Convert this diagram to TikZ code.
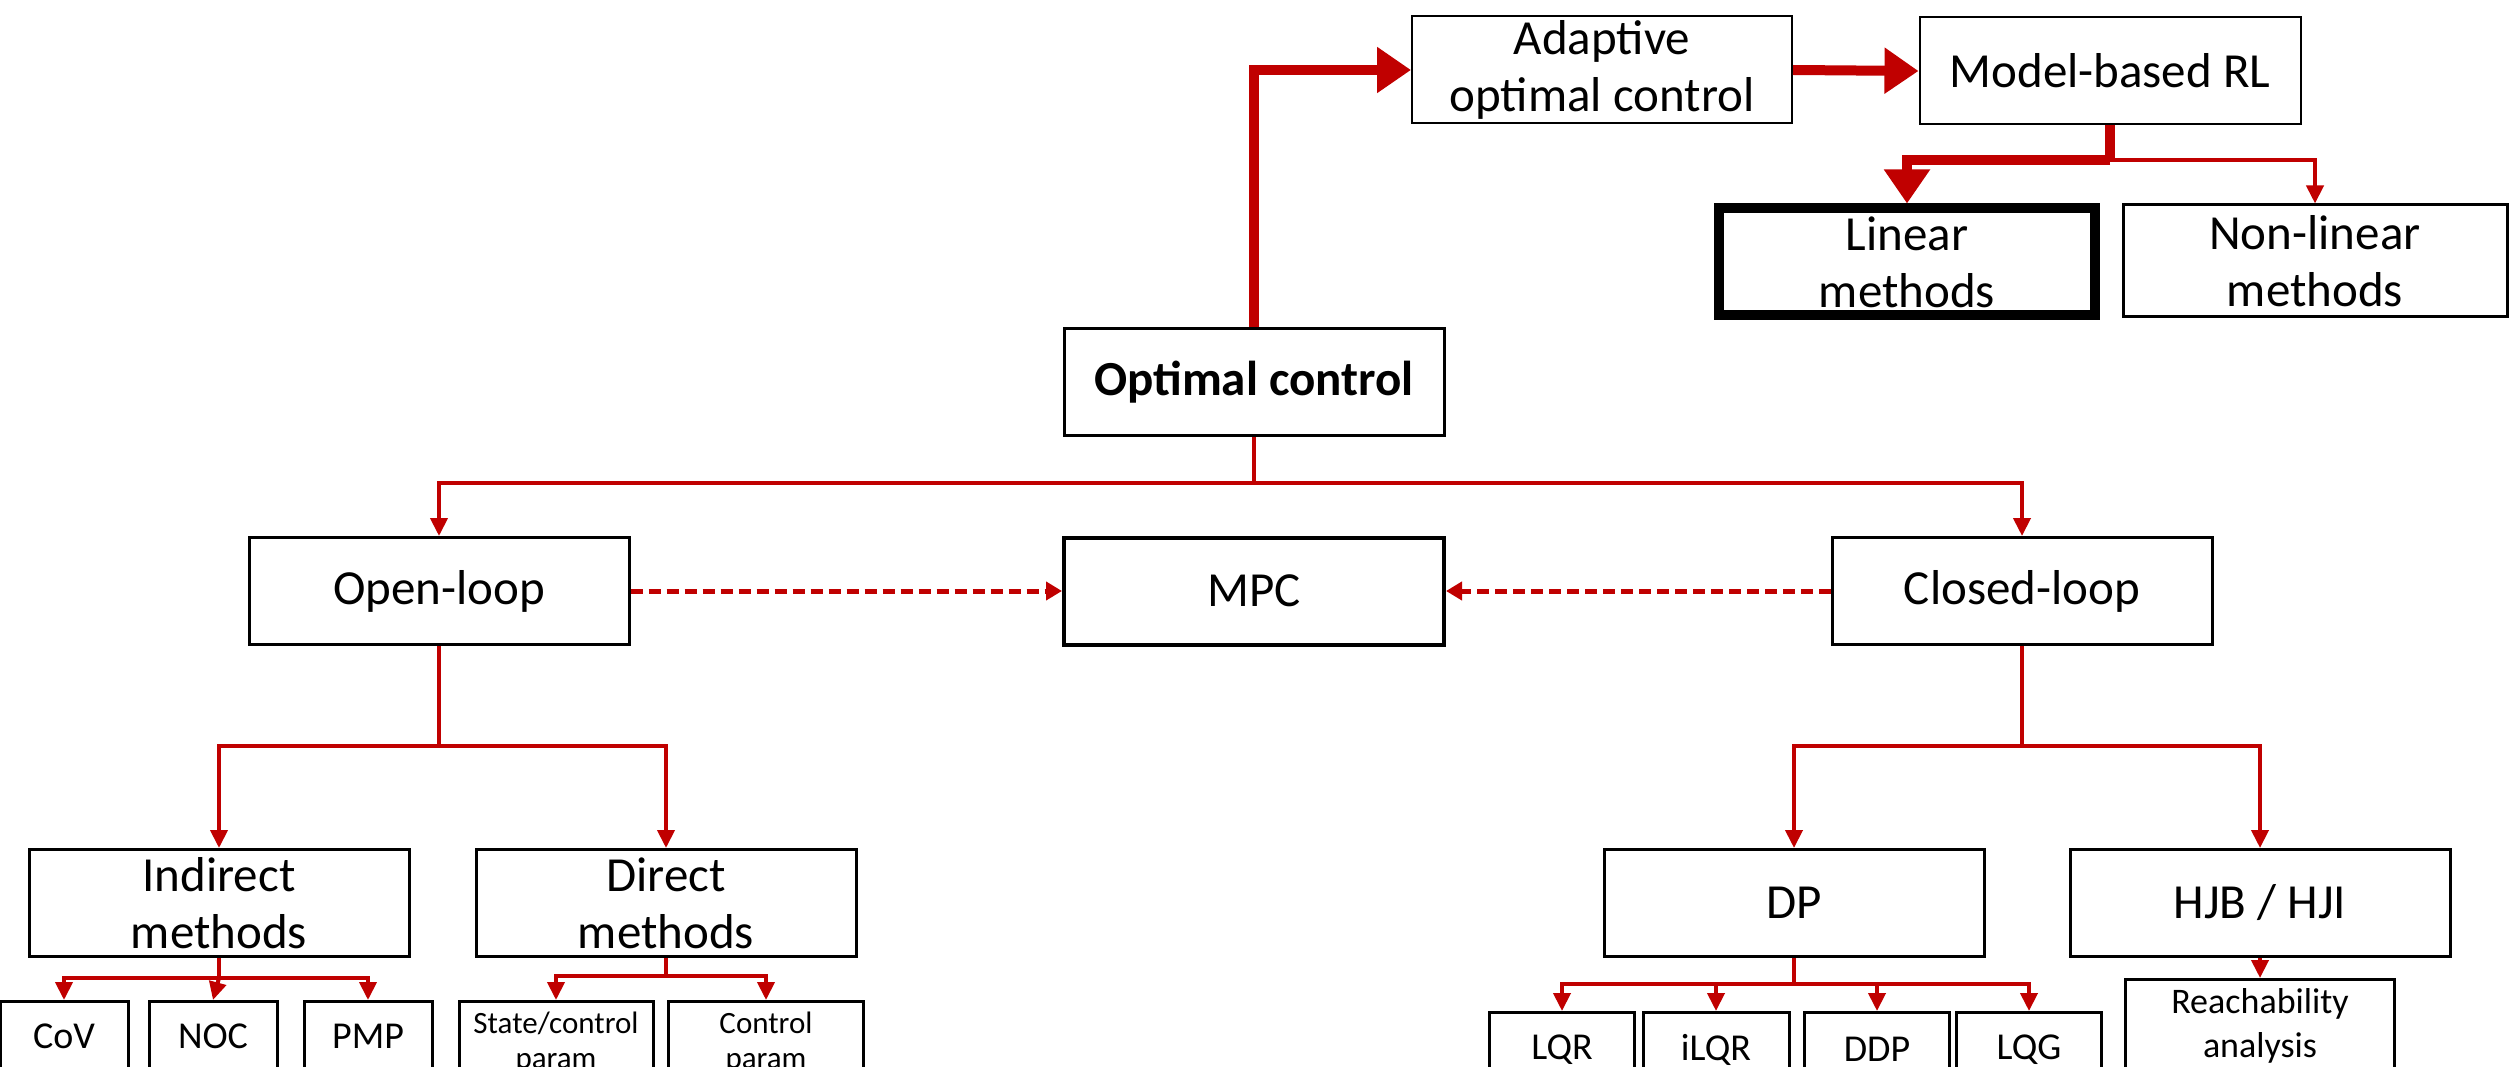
\documentclass[tikz,border=0pt]{standalone}
\usepackage{fontspec}
\setmainfont{Carlito}
\usetikzlibrary{arrows.meta}
\definecolor{cred}{HTML}{C00000}
\begin{document}
\begin{tikzpicture}[x=1pt,y=-1pt,
  box/.style={draw=black, line width=3pt, fill=white, minimum width=380pt, minimum height=107pt, align=center, inner sep=0pt, font=\fontsize{49}{57}\selectfont},
  leaf/.style={draw=black, line width=3pt, fill=white, align=center, inner sep=0pt, anchor=north, font=\fontsize{38}{46}\selectfont},
  redline/.style={draw=cred, line width=4pt},
  thinarrow/.style={draw=cred, line width=4pt, -{Triangle[length=18pt,width=17pt]}},
  thickarrow/.style={draw=cred, line width=10pt, -{Triangle[length=34pt,width=44pt]}},
  dasharrow/.style={draw=cred, line width=5pt, dash pattern=on 12pt off 6pt, -{Triangle[length=16pt,width=18pt]}}]
\useasboundingbox (0,0) rectangle (2509,1067);
\clip (0,0) rectangle (2509,1067);
% main boxes
\node[box, line width=2pt] (aoc) at (1602,70) {Adaptive\\optimal control};
\node[box, line width=2pt, minimum width=381pt] (mrl) at (2110,71) {Model-based RL};
\node[box, line width=10pt, minimum width=376pt, minimum height=107pt] (lin) at (1907,262) {Linear\\methods};
\node[box, minimum width=384pt, minimum height=112pt] (nl) at (2315,261) {Non-linear\\methods};
\node[box] (oc) at (1254,382) {\bfseries Optimal control};
\node[box] (ol) at (439,591) {Open-loop};
\node[box, line width=4pt] (mpc) at (1254,591) {MPC};
\node[box] (cl) at (2022,591) {Closed-loop};
\node[box] (ind) at (219,903) {Indirect\\methods};
\node[box] (dir) at (666,903) {Direct\\methods};
\node[box] (dp) at (1794,903) {DP};
\node[box] (hjb) at (2260,903) {HJB / HJI};
% leaves
\node[leaf, minimum width=128pt, minimum height=70pt] (cov) at (64,1000) {CoV};
\node[leaf, minimum width=128pt, minimum height=70pt] (noc) at (213,1000) {NOC};
\node[leaf, minimum width=128pt, minimum height=70pt] (pmp) at (368,1000) {PMP};
\node[leaf, minimum width=194pt, minimum height=82pt, font=\fontsize{31}{35}\selectfont] (scp) at (556,1000) {State/control\\param};
\node[leaf, minimum width=195pt, minimum height=82pt, font=\fontsize{31}{35}\selectfont] (cp) at (766,1000) {Control\\param};
\node[leaf, minimum width=145pt, minimum height=74pt] (lqr) at (1562,1011) {LQR};
\node[leaf, minimum width=146pt, minimum height=74pt] (ilqr) at (1716,1011) {iLQR};
\node[leaf, minimum width=145pt, minimum height=74pt] (ddp) at (1877,1011) {DDP};
\node[leaf, minimum width=145pt, minimum height=74pt] (lqg) at (2029,1011) {LQG};
\node[leaf, minimum width=269pt, minimum height=92pt, font=\fontsize{36}{44}\selectfont] (rea) at (2260,978) {Reachability\\analysis};
% junctions
\coordinate (jm) at (2110,160);
\coordinate (jo) at (1254,483);
\coordinate (jol) at (439,746);
\coordinate (jcl) at (2022,746);
\coordinate (jind) at (219,978);
\coordinate (jdir) at (666,976);
\coordinate (jdp) at (1794,984);
% thick connectors
\draw[thickarrow] (oc.north) |- (aoc.west);
\draw[thickarrow] (aoc.east) -- (mrl.west);
\draw[draw=cred, line width=10pt] (mrl.south) -- (jm);
\draw[thickarrow] (jm) -| (lin.north);
\draw[thinarrow] (jm) -| (nl.north);
% tree
\draw[redline] (oc.south) -- (jo);
\draw[thinarrow] (jo) -| (ol.north);
\draw[thinarrow] (jo) -| (cl.north);
\draw[dasharrow] (ol.east) -- (mpc.west);
\draw[dasharrow] (cl.west) -- (mpc.east);
\draw[redline] (ol.south) -- (jol);
\draw[thinarrow] (jol) -| (ind.north);
\draw[thinarrow] (jol) -| (dir.north);
\draw[redline] (cl.south) -- (jcl);
\draw[thinarrow] (jcl) -| (dp.north);
\draw[thinarrow] (jcl) -| (hjb.north);
\draw[redline] (ind.south) -- (jind);
\draw[thinarrow] (jind) -| (cov.north);
\draw[thinarrow] (jind) -- (noc.north);
\draw[thinarrow] (jind) -| (pmp.north);
\draw[redline] (dir.south) -- (jdir);
\draw[thinarrow] (jdir) -| (scp.north);
\draw[thinarrow] (jdir) -| (cp.north);
\draw[redline] (dp.south) -- (jdp);
\draw[thinarrow] (jdp) -| (lqr.north);
\draw[thinarrow] (jdp) -| (ilqr.north);
\draw[thinarrow] (jdp) -| (ddp.north);
\draw[thinarrow] (jdp) -| (lqg.north);
\draw[thinarrow] (hjb.south) -- (rea.north);
\end{tikzpicture}
\end{document}
